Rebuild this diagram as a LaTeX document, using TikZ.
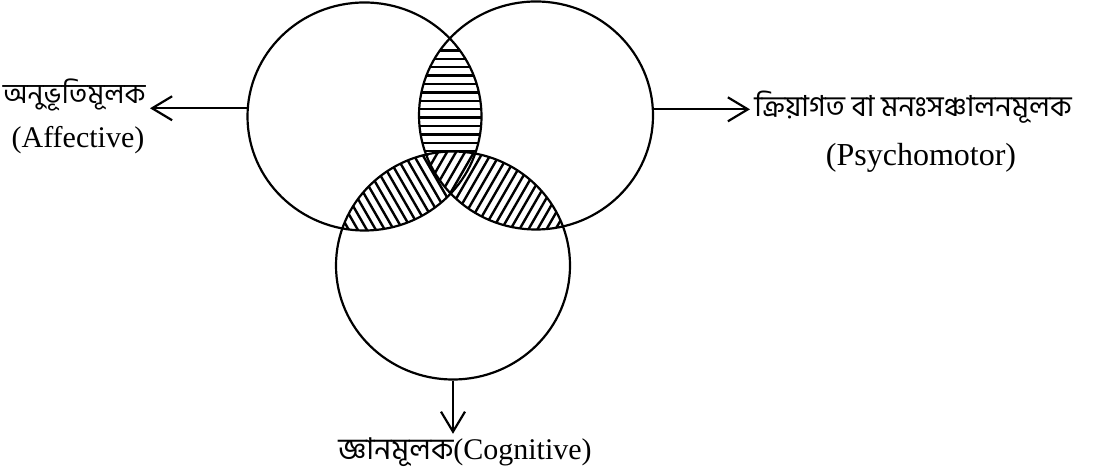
\documentclass[tikz,border=0pt]{standalone}
\usepackage{fontspec}
\setmainfont{Liberation Serif}
\newfontfamily\bn[Script=Bengali]{Hind Siliguri}
\usetikzlibrary{arrows.meta,positioning,shapes.geometric}

\begin{document}
\begin{tikzpicture}[x=0.5pt, y=0.5pt,
    ring/.style={draw, ellipse, line width=1.1pt, minimum width=117pt, minimum height=114pt, inner sep=0pt},
    hatch/.style={line width=1.2pt},
    arrow/.style={-{Straight Barb[length=10pt, width=12pt]}, line width=1.1pt},
    lbl/.style={inner sep=2pt, font=\fontsize{15}{18}\selectfont},
    bnlbl/.style={inner sep=2pt, font=\fontsize{14}{17}\selectfont\bn}
  ]
  \useasboundingbox (0,0) rectangle (1097,475);

  % hatched overlaps, drawn before the rings
  \begin{scope}
    \clip (364.5,358.5) ellipse [x radius=58.5pt, y radius=57pt];
    \clip (536,359.5) ellipse [x radius=58.5pt, y radius=57pt];
    \foreach \k in {0,...,22}
      \draw[hatch] (380,424.5-\k*8.4) -- (540,424.5-\k*8.4);
  \end{scope}
  \begin{scope}
    \clip (453,209.5) ellipse [x radius=58.5pt, y radius=57pt];
    \clip (364.5,358.5) ellipse [x radius=58.5pt, y radius=57pt];
    \fill[white] (300,200) rectangle (560,340);
    \foreach \k in {0,...,26}
      \draw[hatch] (300+\k*9,283) ++(120:90) -- ++(-60:180);
  \end{scope}
  \begin{scope}
    \clip (453,209.5) ellipse [x radius=58.5pt, y radius=57pt];
    \clip (536,359.5) ellipse [x radius=58.5pt, y radius=57pt];
    \fill[white] (380,200) rectangle (640,340);
    \foreach \k in {0,...,28}
      \draw[hatch] (370+\k*9,283) ++(240:90) -- ++(60:180);
  \end{scope}

  % the three domains
  \node[ring] (affect) at (364.5,358.5) {};
  \node[ring] (psycho) at (536,359.5) {};
  \node[ring] (cogn) at (453,209.5) {};

  % labels
  \node[bnlbl, anchor=east] (affbn) at (150,380) {অনুভূতিমূলক};
  \node[lbl, anchor=base] (affen) at (78,327) {(Affective)};
  \node[bnlbl, anchor=west, font=\fontsize{14.5}{17}\selectfont\bn] (psybn) at (750,368) {ক্রিয়াগত বা মনঃসঞ্চালনমূলক};
  \node[lbl, anchor=base, font=\fontsize{16}{19}\selectfont] (psyen) at (921,309) {(Psychomotor)};
  \node[lbl, anchor=base] (coglbl) at (465,15) {{\bn জ্ঞানমূলক}(Cognitive)};

  \draw[arrow] (affect.176) -- (affect.176 -| affbn.east);
  \draw[arrow] (psycho.3) -- (psycho.3 -| psybn.west);
  \draw[arrow] (cogn.south) -- (cogn.south |- coglbl.north);
\end{tikzpicture}
\end{document}
